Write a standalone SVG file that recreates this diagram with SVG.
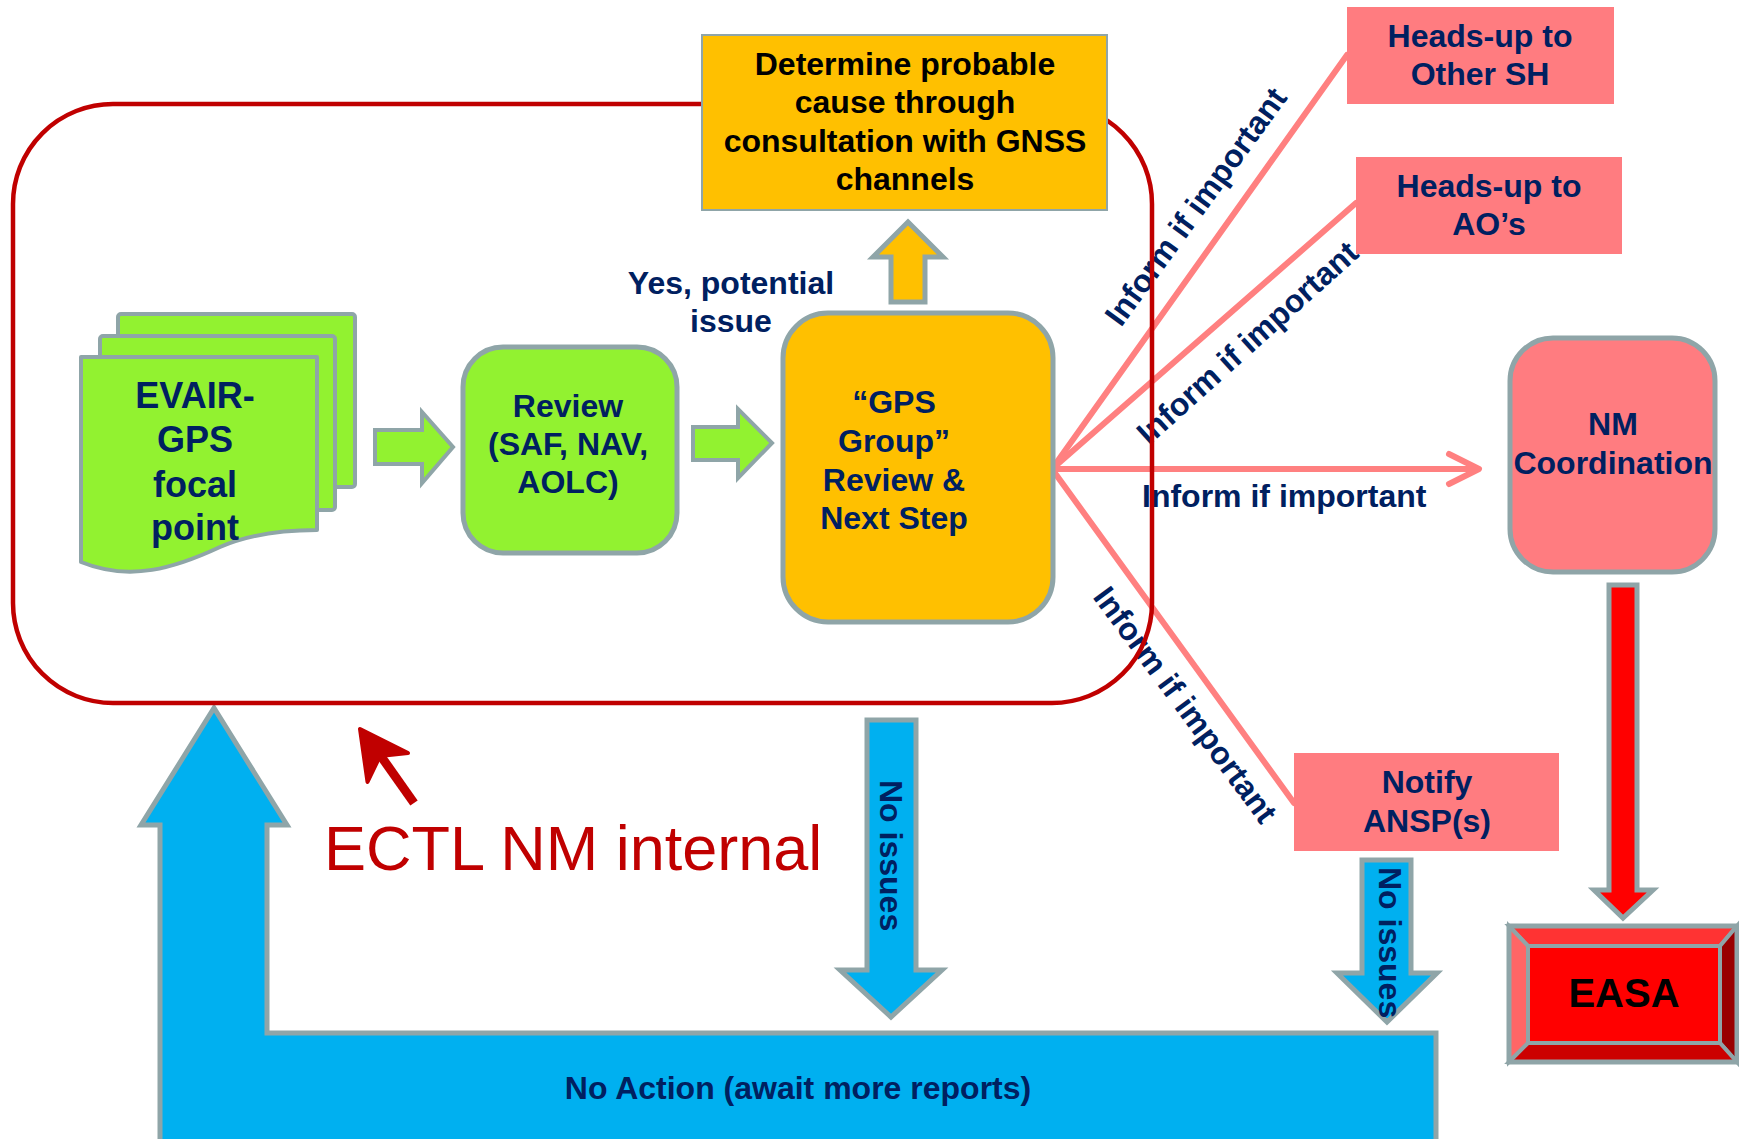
<svg xmlns="http://www.w3.org/2000/svg" width="1739" height="1139" viewBox="0 0 1739 1139">
<defs>
<style>
.t{font-family:"Liberation Sans",Arial,sans-serif;font-weight:bold;fill:#002060;font-size:32px;text-anchor:middle}
.s{text-anchor:start}
.blk{fill:#000000}
.gs{stroke:#8FA5A8;stroke-width:5}
.gt{stroke:#8FA5A8;stroke-width:4}
.grn{fill:#92F230}
.org{fill:#FFC000}
.pink{fill:#FF7C80}
.blue{fill:#00B0F0}
.conn{stroke:#FF8080;stroke-width:6;fill:none;stroke-linecap:round;stroke-linejoin:round}
</style>
</defs>
<rect width="1739" height="1139" fill="#ffffff"/>

<g id="connectors">
  <line class="conn" x1="1052" y1="469" x2="1347" y2="55"/>
  <line class="conn" x1="1052" y1="469" x2="1356" y2="203"/>
  <line class="conn" x1="1052" y1="469" x2="1478" y2="469"/>
  <polyline class="conn" points="1449,454 1479,469 1449,484"/>
  <line class="conn" x1="1052" y1="469" x2="1294" y2="803"/>
  <text class="t s" transform="translate(1121,328) rotate(-54)">Inform if important</text>
  <text class="t s" transform="translate(1149,446) rotate(-42)">Inform if important</text>
  <text class="t s" x="1142" y="507">Inform if important</text>
  <text class="t s" transform="translate(1092,597) rotate(53.5)">Inform if important</text>

  <polygon class="grn gt" points="375,430 422,430 422,412 453,447 422,483 422,464 375,464"/>
  <polygon class="grn gt" points="693,427 738,427 738,409 772,443 738,478 738,460 693,460"/>
  <polygon class="org gs" points="891,302 891,257 873,257 908,222 943,257 925,257 925,302"/>
  <text class="t" x="731" y="294">Yes, potential</text>
  <text class="t" x="731" y="332">issue</text>

  <polygon class="blue gs" points="160,1150 160,825 141,825 214,708 287,825 267,825 267,1033 1436,1033 1436,1150"/>
  <text class="t" x="798" y="1099">No Action (await more reports)</text>

  <polygon class="blue gs" points="867,720 916,720 916,970 942,970 891,1017 840,970 867,970"/>
  <text class="t s" transform="translate(880,780) rotate(90)">No issues</text>
  <polygon class="blue gs" points="1362,860 1411,860 1411,973 1437,973 1387,1022 1337,973 1362,973"/>
  <text class="t s" transform="translate(1379,867) rotate(90)">No issues</text>

  <polygon style="fill:#FF0000" class="gs" points="1609,585 1637,585 1637,890 1653,890 1623,918 1594,890 1609,890"/>

  <line x1="414" y1="803" x2="378" y2="752" stroke="#C00000" stroke-width="9" stroke-linecap="butt"/>
  <path d="M360,729 L367.5,782 L380,756 L408,753 Z" fill="#C00000" stroke="#C00000" stroke-width="4" stroke-linejoin="round"/>
</g>

<g id="container">
  <rect x="13" y="104" width="1139" height="599" rx="100" ry="100" fill="none" stroke="#C00000" stroke-width="4.5"/>
  <text x="324" y="870" font-family="Liberation Sans, Arial, sans-serif" font-size="63" fill="#C00000">ECTL NM internal</text>
</g>

<g id="evair">
  <rect class="grn gt" x="118" y="314" width="237" height="173" rx="3"/>
  <rect class="grn gt" x="100" y="336" width="235" height="174" rx="3"/>
  <path class="grn gt" d="M81,562 L81,357 L317,357 L317,530 C290,530 255,532 220,547 C175,568 130,582 81,562 Z" stroke-linejoin="round"/>
  <text class="t" x="195" y="408" style="font-size:36px">EVAIR-</text>
  <text class="t" x="195" y="452" style="font-size:36px">GPS</text>
  <text class="t" x="195" y="497" style="font-size:36px">focal</text>
  <text class="t" x="195" y="540" style="font-size:36px">point</text>
</g>

<g id="review">
  <rect class="grn gs" x="463" y="347" width="214" height="206" rx="40"/>
  <text class="t" x="568" y="417">Review</text>
  <text class="t" x="568" y="455">(SAF, NAV,</text>
  <text class="t" x="568" y="493">AOLC)</text>
</g>

<g id="gps-group">
  <rect class="org gs" x="783" y="313" width="270" height="309" rx="45"/>
  <text class="t" x="894" y="413">“GPS</text>
  <text class="t" x="894" y="452">Group”</text>
  <text class="t" x="894" y="491">Review &amp;</text>
  <text class="t" x="894" y="529">Next Step</text>
</g>

<g id="determine">
  <rect class="org" x="702" y="35" width="405" height="175" stroke="#8FA5A8" stroke-width="2"/>
  <text class="t blk" x="905" y="75">Determine probable</text>
  <text class="t blk" x="905" y="113">cause through</text>
  <text class="t blk" x="905" y="152">consultation with GNSS</text>
  <text class="t blk" x="905" y="190">channels</text>
</g>

<g id="heads-up-sh">
  <rect class="pink" x="1347" y="7" width="267" height="97"/>
  <text class="t" x="1480" y="47">Heads-up to</text>
  <text class="t" x="1480" y="85">Other SH</text>
</g>

<g id="heads-up-ao">
  <rect class="pink" x="1356" y="157" width="266" height="97"/>
  <text class="t" x="1489" y="197">Heads-up to</text>
  <text class="t" x="1489" y="235">AO’s</text>
</g>

<g id="nm-coordination">
  <rect class="pink gs" x="1510" y="338" width="205" height="234" rx="43"/>
  <text class="t" x="1613" y="435">NM</text>
  <text class="t" x="1613" y="474">Coordination</text>
</g>

<g id="notify-ansp">
  <rect class="pink" x="1294" y="753" width="265" height="98"/>
  <text class="t" x="1427" y="793">Notify</text>
  <text class="t" x="1427" y="832">ANSP(s)</text>
</g>

<g id="easa">
  <rect x="1509" y="926" width="228" height="136" fill="#FF0000"/>
  <polygon points="1509,926 1737,926 1720,946 1528,946" fill="#FF3333" class="gt"/>
  <polygon points="1509,926 1528,946 1528,1043 1509,1062" fill="#FF6666" class="gt"/>
  <polygon points="1737,926 1737,1062 1720,1043 1720,946" fill="#990000" class="gt"/>
  <polygon points="1509,1062 1528,1043 1720,1043 1737,1062" fill="#CC0000" class="gt"/>
  <rect x="1528" y="946" width="192" height="97" fill="#FF0000" class="gt"/>
  <rect x="1509" y="926" width="228" height="136" fill="none" class="gs"/>
  <text class="t blk" x="1624" y="1007" style="font-size:40px">EASA</text>
</g>
</svg>
